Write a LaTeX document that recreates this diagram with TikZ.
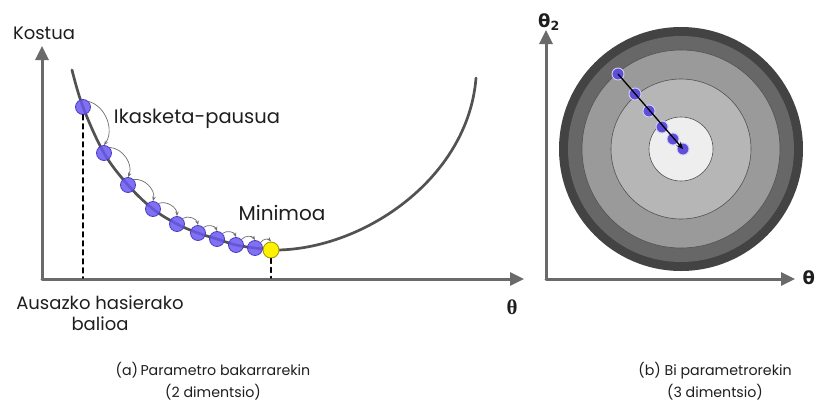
\documentclass[tikz,border=0pt]{standalone}
\usepackage{fontspec}
\setmainfont{Poppins}
\newfontfamily\thetaserif{Liberation Serif}
\newfontfamily\thetasans{DejaVu Sans}
\usetikzlibrary{
  arrows.meta,
  calc
}
\definecolor{axisC}{HTML}{6A6A6A}
\definecolor{curveC}{HTML}{525252}
\definecolor{stepC}{HTML}{6E6E6E}
\definecolor{ballC}{HTML}{6A58F0}
\definecolor{ballDarkC}{HTML}{4A3BC8}
\definecolor{minC}{HTML}{FFF200}
\definecolor{minDarkC}{HTML}{A89A10}
\definecolor{ringA}{HTML}{434343}
\definecolor{ringB}{HTML}{676767}
\definecolor{ringC}{HTML}{9A9A9A}
\definecolor{ringD}{HTML}{B6B6B6}
\definecolor{ringE}{HTML}{EEEEEE}
\definecolor{textC}{HTML}{1E1E1E}

\begin{document}
\begin{tikzpicture}[
  x=1pt,
  y=-1pt,
  line cap=round,
  line join=round,
  every node/.style={text=textC, font=\fontsize{18}{21}\selectfont},
  caption/.style={align=center, font=\fontsize{14.2}{22}\selectfont},
  axis/.style={draw=axisC, line width=3pt, -{Triangle[length=14pt,width=13pt]}},
  costball/.style={circle, inner sep=0pt, minimum size=15pt, fill=ballC,
    fill opacity=0.85, draw=ballDarkC, line width=0.8pt},
  pathball/.style={circle, inner sep=0pt, minimum size=12pt, fill=ballC!90!black,
    draw=ballC!30, line width=0.9pt},
  stepline/.style={draw=stepC, line width=0.7pt, -{Stealth[length=4.5pt,width=3.5pt]}},
  dropline/.style={draw=black, line width=1.4pt, dash pattern=on 5pt off 4pt}
]
\useasboundingbox (0,0) rectangle (815,410);

% Left panel: cost axes.
\coordinate (oL) at (42,279);
\coordinate (yL) at (42,46);
\coordinate (xL) at (524,279);
\draw[axis] (oL) -- (yL);
\draw[axis] (oL) -- (xL);

% Cost curve.
\draw[curveC, line width=2.7pt]
  plot[smooth, tension=0.6] coordinates {
    (72,70) (83,107) (104,153) (128,185) (153,209) (177,224) (198,233)
    (217,239) (236,245) (255,248) (271,250)}
  .. controls (360,252) and (468,180) .. (476,78);

% Descent steps along the curve.
\foreach \i/\x/\y in {1/83/107, 2/104/153, 3/128/185, 4/153/209, 5/177/224,
                      6/198/233, 7/217/239, 8/236/245, 9/255/248}{
  \node[costball] (b\i) at (\x,\y) {};
}
\node[circle, inner sep=0pt, minimum size=16pt, fill=minC, draw=minDarkC,
  line width=0.9pt] (bmin) at (271,250) {};

\foreach \a/\b in {b1/b2, b2/b3, b3/b4, b4/b5, b5/b6, b6/b7, b7/b8, b8/b9, b9/bmin}{
  \draw[stepline] (\a.north east) to[bend left=55] (\b.north);
}

% Start and minimum markers.
\coordinate (tStart) at (83,278);
\coordinate (tMin) at (271,278);
\draw[dropline] (b1.south) -- (tStart);
\draw[dropline] (bmin.south) -- (tMin);

\node (kostua) at (44,33) {Kostua};
\node[font=\fontsize{19.5}{21}\selectfont] (pausua) at (197,119) {Ikasketa-pausua};
\node[font=\fontsize{20}{21}\selectfont] (minimoa) at (282,213) {Minimoa};
\node[align=center] (hasiera) at (100,313) {Ausazko hasierako\\balioa};
\node[font=\thetaserif\bfseries\fontsize{21}{21}\selectfont] (thetaL) at (512,307) {θ};

% Right panel: contour rings.
\coordinate (ctr) at (681,149);
\fill[ringA] (ctr) circle (122);
\fill[ringB] (ctr) circle (113);
\foreach \r/\C in {99/ringC, 70/ringD, 32/ringE}{
  \fill[\C] (ctr) circle (\r);
  \draw[curveC, line width=0.6pt] (ctr) circle (\r);
}

\coordinate (oR) at (546,279);
\coordinate (yR) at (546,30);
\coordinate (xR) at (795,279);
\draw[axis] (oR) -- (yR);
\draw[axis] (oR) -- (xR);

\node[font=\thetasans\bfseries\fontsize{18}{18}\selectfont] (thetaTwo) at (549,22) {θ\textsubscript{2}};
\node[font=\thetasans\bfseries\fontsize{18}{18}\selectfont, anchor=west] (thetaOne) at (799,279) {θ\textsubscript{1}};

% Gradient path toward the centre.
\foreach \i/\x/\y in {1/618/74, 2/635/94, 3/649/111, 4/662/127, 5/673/139, 6/683/149}{
  \node[pathball] (p\i) at (\x,\y) {};
}
\draw[black, line width=1.3pt, -{Stealth[length=7pt,width=6pt]}] (p1.center) -- (p6.center);

% Captions.
\node[caption] (capA) at (213,381) {(a)\,Parametro bakarrarekin\\(2 dimentsio)};
\node[caption] (capB) at (715,381) {(b) Bi parametrorekin\\(3 dimentsio)};

\end{tikzpicture}
\end{document}
